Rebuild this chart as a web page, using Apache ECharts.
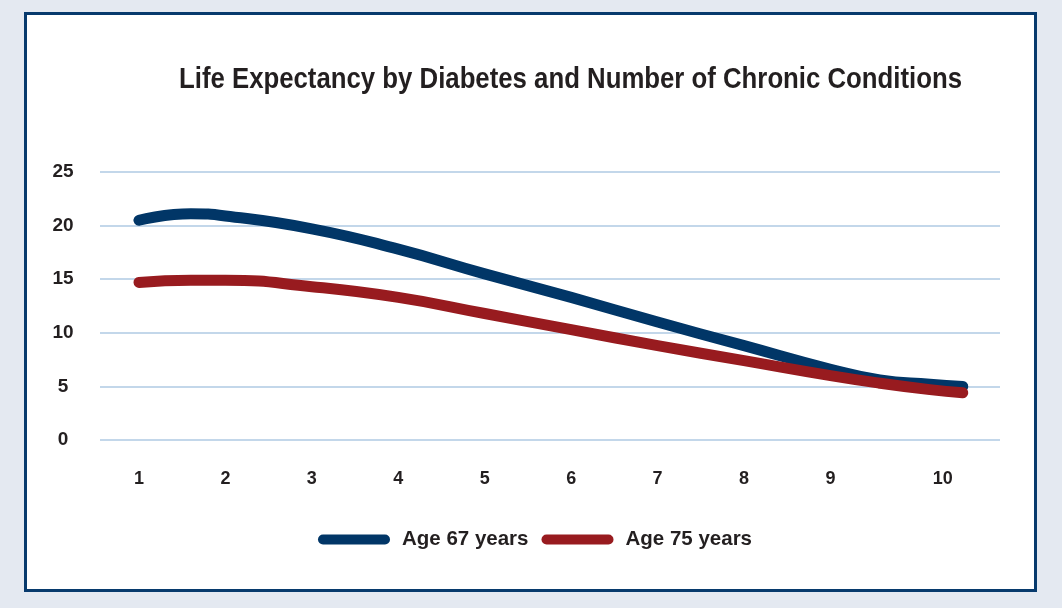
<!DOCTYPE html>
<html>
<head>
<meta charset="utf-8">
<script src="https://cdn.jsdelivr.net/npm/echarts@6/dist/echarts.min.js"></script>
<style>
  html, body { margin: 0; padding: 0; background: #e4e9f1; }
  #chart { width: 1062px; height: 608px; }
</style>
</head>
<body>
<div id="chart"></div>
<script>
// Number of chronic conditions: tick labels and where they sit on the x scale
const tickLabels = ['1', '2', '3', '4', '5', '6', '7', '8', '9', '10'];
const tickPositions = [1, 2, 3, 4, 5, 6, 7, 8, 9, 10.3];

// Points along each curve (x position on the scale, life expectancy in years)
const curveX = [1, 1.6, 2, 3, 4, 5, 6, 7, 8, 9, 9.57, 10.15, 10.53];
const age67 = [20.5, 21.1, 20.9, 19.7, 17.8, 15.5, 13.3, 11.0, 8.8, 6.6, 5.6, 5.2, 5.0];
const age75 = [14.7, 14.9, 14.9, 14.3, 13.3, 11.8, 10.3, 8.8, 7.4, 6.0, 5.3, 4.7, 4.4];

const yTicks = [0, 5, 10, 15, 20, 25];

const titleText = 'Life Expectancy by Diabetes and Number of Chronic Conditions';
const seriesNames = ['Age 67 years', 'Age 75 years'];
const colors = ['#013667', '#981b1f'];

const pair = (xs, ys) => xs.map((x, i) => [x, ys[i]]);

// Title is set in a condensed face: squeeze a regular bold face to the target width
const titleFont = "bold 29px 'Liberation Sans', Arial, sans-serif";
const titleWidth = 783;
const measureCtx = document.createElement('canvas').getContext('2d');
measureCtx.font = titleFont;
const titleScale = titleWidth / measureCtx.measureText(titleText).width;

const chart = echarts.init(document.getElementById('chart'), null, { renderer: 'canvas' });

const legendIcon = 'path://M5,0 L67,0 A5,5 0 0 1 67,10 L5,10 A5,5 0 0 1 5,0 Z';

chart.setOption({
  backgroundColor: '#e4e9f1',
  animation: false,
  graphic: [
    {
      type: 'rect',
      z: -10,
      shape: { x: 25.5, y: 13.5, width: 1010, height: 577 },
      style: { fill: '#ffffff', stroke: '#073a6d', lineWidth: 3 }
    },
    {
      type: 'text',
      x: 570.5,
      y: 80,
      scaleX: titleScale,
      style: {
        text: titleText,
        font: titleFont,
        fill: '#231f20',
        align: 'center',
        verticalAlign: 'middle'
      }
    }
  ],
  legend: {
    left: 318,
    top: 529,
    padding: 0,
    itemWidth: 72,
    itemHeight: 10,
    itemGap: 13,
    icon: legendIcon,
    data: seriesNames,
    textStyle: {
      fontFamily: "'Liberation Sans', Arial, sans-serif",
      fontWeight: 'bold',
      fontSize: 20.5,
      color: '#231f20',
      padding: [0, 0, 0, 7]
    }
  },
  grid: { left: 100, right: 62, top: 172, bottom: 168 },
  xAxis: {
    type: 'value',
    min: 0.549,
    max: 10.961,
    axisLine: { show: false },
    axisTick: { show: false },
    splitLine: { show: false },
    axisLabel: {
      customValues: tickPositions,
      margin: 30,
      formatter: v => {
        const i = tickPositions.findIndex(p => Math.abs(p - v) < 1e-6);
        return i >= 0 ? tickLabels[i] : '';
      },
      fontFamily: "'Liberation Sans', Arial, sans-serif",
      fontWeight: 'bold',
      fontSize: 18,
      color: '#231f20'
    }
  },
  yAxis: {
    type: 'value',
    min: 0,
    max: 25,
    interval: 5,
    axisLine: { show: false },
    axisTick: { show: false },
    splitLine: { lineStyle: { color: '#c3d7ea', width: 2 } },
    axisLabel: {
      customValues: yTicks,
      align: 'center',
      margin: 37,
      padding: [0, 0, 5, 0],
      fontFamily: "'Liberation Sans', Arial, sans-serif",
      fontWeight: 'bold',
      fontSize: 19,
      color: '#231f20'
    }
  },
  series: [
    {
      name: seriesNames[0],
      type: 'line',
      data: pair(curveX, age67),
      smooth: 0.5,
      showSymbol: false,
      symbol: 'none',
      color: colors[0],
      lineStyle: { width: 11, color: colors[0], cap: 'round', join: 'round' },
      z: 2
    },
    {
      name: seriesNames[1],
      type: 'line',
      data: pair(curveX, age75),
      smooth: 0.5,
      showSymbol: false,
      symbol: 'none',
      color: colors[1],
      lineStyle: { width: 11, color: colors[1], cap: 'round', join: 'round' },
      z: 3
    }
  ]
});
</script>
</body>
</html>
